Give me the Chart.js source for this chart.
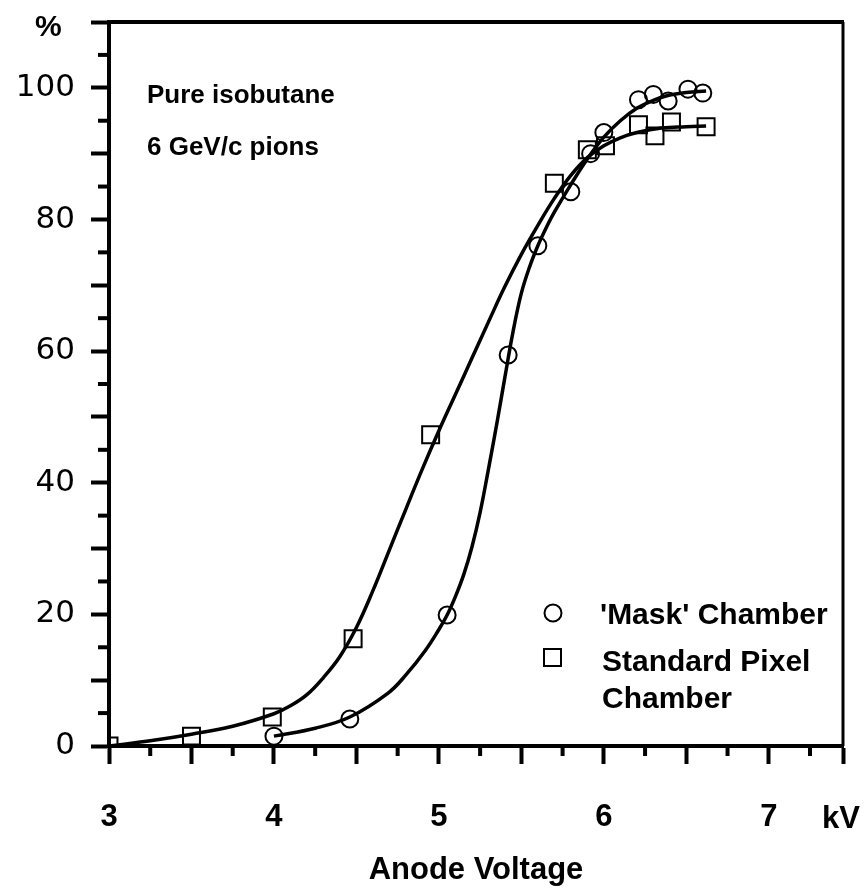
<!DOCTYPE html>
<html>
<head>
<meta charset="utf-8">
<script src="https://cdn.jsdelivr.net/npm/chart.js@4/dist/chart.umd.min.js"></script>
<style>
  html, body { margin: 0; padding: 0; background: #fff; }
  #wrap { width: 864px; height: 891px; }
</style>
</head>
<body>
<div id="wrap"><canvas id="grafica" width="864" height="891"></canvas></div>
<script>
// measured points ('Mask' chamber = circles, standard pixel chamber = squares)
const maskX = [4.0, 4.46, 5.05, 5.42, 5.60, 5.80, 5.92, 6.0, 6.21, 6.30, 6.39, 6.51, 6.60];
const maskY = [1.5, 4.1, 19.9, 59.4, 76, 84.2, 90, 93.2, 98.2, 99, 98, 99.8, 99.2];
const pixelX = [3.0, 3.5, 3.99, 4.48, 4.95, 5.70, 5.90, 6.01, 6.21, 6.31, 6.41, 6.62];
const pixelY = [0, 1.5, 4.4, 16.3, 47.3, 85.5, 90.6, 91.2, 94.4, 92.7, 94.8, 94.1];

// fitted curves
const maskCurveX = [4.0, 4.25, 4.46, 4.69, 4.8, 4.92, 5.0, 5.05, 5.1, 5.15, 5.2, 5.25, 5.3, 5.35, 5.4, 5.45, 5.5, 5.55, 5.6, 5.65, 5.7, 5.8, 5.9, 6.0, 6.1, 6.2, 6.3, 6.4, 6.5, 6.62];
const maskCurveY = [1.5, 2.7, 4.4, 8, 10.8, 14.6, 17.7, 19.9, 22.7, 26, 30.2, 35.5, 42, 48.8, 56, 63, 68.8, 72.8, 76, 78.7, 81.1, 85.3, 89.2, 92.5, 95, 96.9, 98.1, 98.9, 99.3, 99.5];
const pixelCurveX = [3.0, 3.25, 3.5, 3.75, 4.0, 4.1, 4.2, 4.3, 4.4, 4.5, 4.6, 4.7, 4.8, 4.9, 5.0, 5.1, 5.2, 5.3, 5.4, 5.5, 5.6, 5.7, 5.8, 5.9, 6.0, 6.1, 6.2, 6.35, 6.5, 6.62];
const pixelCurveY = [0, 0.8, 1.8, 3.0, 4.9, 6.1, 7.8, 10.4, 13.6, 18, 23.6, 29.8, 36, 42.1, 47.9, 53.4, 58.9, 64.4, 69.8, 74.7, 79.1, 83.2, 86.7, 89.4, 91.2, 92.4, 93.2, 93.9, 94.1, 94.2];

const xMin = 3, xMax = 7.45, xStep = 0.25;
const yMin = 0, yMax = 110, yStep = 10;

function pares(xs, ys) {
    return xs.map(function(x, i) { return { x: x, y: ys[i] }; });
}

const negro = '#000';
const fuenteBold = "'Liberation Sans', Arial, sans-serif";

// frame, minor ticks and the texts drawn on the plot
const extras = {
    id: 'extras',
    afterDraw(chart) {
        const ctx = chart.ctx;
        const a = chart.chartArea;
        const sx = chart.scales.x;
        const sy = chart.scales.y;
        ctx.save();
        ctx.strokeStyle = negro;
        ctx.lineCap = 'butt';
        // top and right border
        ctx.lineWidth = 4;
        ctx.beginPath();
        ctx.moveTo(a.left - 2, a.top);
        ctx.lineTo(a.right + 1, a.top);
        ctx.stroke();
        ctx.lineWidth = 3;
        ctx.beginPath();
        ctx.moveTo(a.right, a.top);
        ctx.lineTo(a.right, a.bottom);
        ctx.stroke();

        // short ticks
        ctx.lineWidth = 4;
        for (let v = xMin + xStep; v < xMax; v += 2 * xStep) {
            const px = sx.getPixelForValue(v);
            ctx.beginPath();
            ctx.moveTo(px, a.bottom);
            ctx.lineTo(px, a.bottom + 10);
            ctx.stroke();
        }
        for (let v = yMin + 5; v < yMax; v += yStep) {
            const py = sy.getPixelForValue(v);
            ctx.beginPath();
            ctx.moveTo(a.left, py);
            ctx.lineTo(a.left - 11, py);
            ctx.stroke();
        }

        ctx.fillStyle = negro;
        ctx.textBaseline = 'alphabetic';
        ctx.textAlign = 'left';
        ctx.font = "bold 30px " + fuenteBold;
        ctx.fillText('%', 35, 36);
        ctx.font = "bold 31px " + fuenteBold;
        ctx.fillText('kV', 822, 828);

        ctx.font = "bold 26px " + fuenteBold;
        ctx.fillText('Pure isobutane', 147, 103);
        ctx.fillText('6 GeV/c pions', 147, 155);

        ctx.font = "bold 30px " + fuenteBold;
        ctx.fillText("'Mask' Chamber", 600, 624);
        ctx.fillText('Standard Pixel', 602, 671);
        ctx.fillText('Chamber', 602, 708);

        // legend markers
        ctx.lineWidth = 2;
        ctx.beginPath();
        ctx.arc(553, 613, 8.5, 0, Math.PI * 2);
        ctx.stroke();
        ctx.strokeRect(544, 649, 17, 17);
        ctx.restore();
    }
};

const ctx = document.getElementById('grafica').getContext('2d');
const grafica = new Chart(ctx, {
    type: 'scatter',
    data: {
        datasets: [{
            label: 'Mask fit',
            data: pares(maskCurveX, maskCurveY),
            showLine: true,
            borderColor: negro,
            borderWidth: 3.5,
            pointRadius: 0,
            tension: 0.4
        }, {
            label: 'Pixel fit',
            data: pares(pixelCurveX, pixelCurveY),
            showLine: true,
            borderColor: negro,
            borderWidth: 3.5,
            pointRadius: 0,
            tension: 0.4
        }, {
            label: "'Mask' Chamber",
            data: pares(maskX, maskY),
            pointStyle: 'circle',
            pointRadius: 8.5,
            borderWidth: 2,
            borderColor: negro,
            backgroundColor: 'rgba(0,0,0,0)'
        }, {
            label: 'Standard Pixel Chamber',
            data: pares(pixelX, pixelY),
            pointStyle: 'rect',
            pointRadius: 12,
            borderWidth: 2,
            borderColor: negro,
            backgroundColor: 'rgba(0,0,0,0)'
        }]
    },
    options: {
        responsive: false,
        animation: false,
        layout: { padding: { top: 22, right: 21, left: 0, bottom: 0 } },
        plugins: {
            legend: { display: false },
            tooltip: { enabled: false }
        },
        scales: {
            x: {
                type: 'linear',
                min: xMin,
                max: xMax,
                afterFit: function(scale) {
                    scale.height = 145;
                    scale.paddingLeft = 0;
                    scale.paddingRight = 0;
                },
                border: { color: negro, width: 4 },
                grid: {
                    drawOnChartArea: false,
                    tickLength: 18,
                    tickWidth: 4,
                    tickColor: function(c) {
                        const v = c.tick ? c.tick.value : 0;
                        return (Math.abs(v * 2 - Math.round(v * 2)) < 1e-6 || v === xMax) ? negro : 'rgba(0,0,0,0)';
                    }
                },
                ticks: {
                    stepSize: xStep,
                    autoSkip: false,
                    maxRotation: 0,
                    padding: 35,
                    color: negro,
                    font: { family: fuenteBold, size: 31, weight: 'bold' },
                    callback: function(v) { return (Number.isInteger(v) && v <= 7) ? v : ''; }
                },
                title: {
                    display: true,
                    text: 'Anode Voltage',
                    color: negro,
                    font: { family: fuenteBold, size: 31, weight: 'bold' },
                    padding: { top: 0, bottom: 2 }
                }
            },
            y: {
                type: 'linear',
                min: yMin,
                max: yMax,
                afterFit: function(scale) {
                    scale.width = 109;
                    scale.paddingTop = 0;
                    scale.paddingBottom = 0;
                },
                border: { color: negro, width: 4 },
                grid: {
                    drawOnChartArea: false,
                    tickLength: 18,
                    tickWidth: 4,
                    tickColor: negro
                },
                ticks: {
                    stepSize: yStep,
                    autoSkip: false,
                    padding: 16,
                    color: negro,
                    font: { family: "'DejaVu Sans', sans-serif", size: 31 },
                    callback: function(v) { return (v % 20 === 0 && v <= 100) ? v : ''; }
                }
            }
        }
    },
    plugins: [extras]
});
</script>
</body>
</html>
